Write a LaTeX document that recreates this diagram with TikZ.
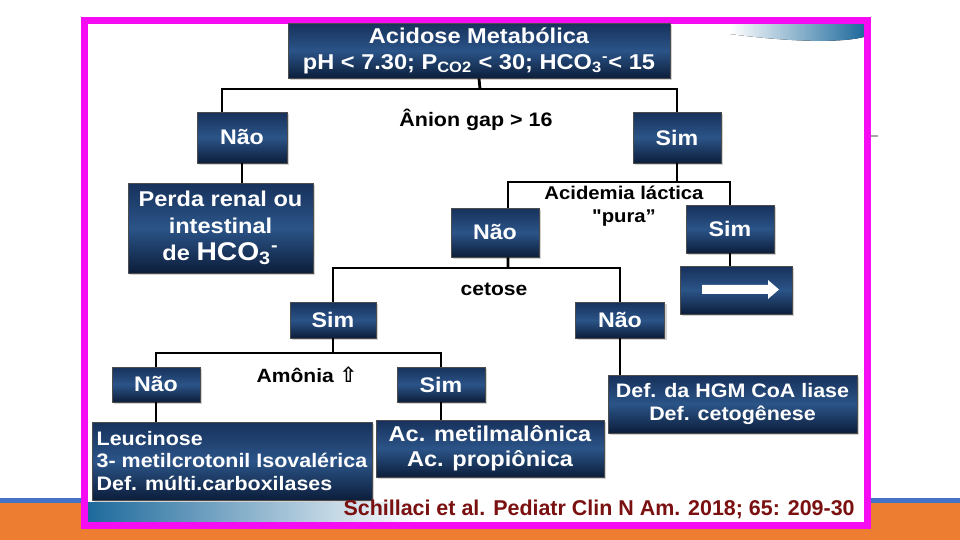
\documentclass[tikz,border=0pt]{standalone}
\usepackage{fontspec}
\setmainfont{Liberation Sans}
\newfontfamily\widefont[FakeStretch=1.1]{Liberation Sans}
\newfontfamily\arrowsym{DejaVu Sans}
\usetikzlibrary{shadows}
\definecolor{navytop}{HTML}{17315B}
\definecolor{navymid}{HTML}{2B5488}
\definecolor{navybot}{HTML}{0C1E3B}
\definecolor{framepink}{HTML}{F50CF2}
\definecolor{slideorange}{HTML}{ED7D31}
\definecolor{slideblue}{HTML}{4472C4}
\definecolor{swoosh}{HTML}{1E6A9C}
\definecolor{citered}{HTML}{7B1010}
\newcommand{\fsz}[2]{\fontsize{#1}{#2}\selectfont}
\begin{document}
\begin{tikzpicture}[x=0.02cm, y=-0.02cm, box/.style={draw=black!70, line width=0.5pt, top color=navytop, bottom color=navybot, middle color=navymid, text=white, font=\widefont\bfseries\fsz{12}{14}, align=center, inner sep=0pt, drop shadow={opacity=0.35, shadow xshift=1.2pt, shadow yshift=-1.2pt}}, answer/.style={box, minimum width=1.76cm}, tag/.style={font=\widefont\bfseries\fsz{10.9}{13}, align=center, inner sep=0pt}, link/.style={line width=1.6pt}]
		\useasboundingbox (0,0) rectangle (960,540);
		\fill[white] (0,0) rectangle (960,540);
		\fill[slideblue] (0,498) rectangle (960,503);
		\fill[slideorange] (0,503) rectangle (960,540);
		\fill[white] (88,24) rectangle (864,522);
		\fill[left color=white, right color=swoosh] (730,24) -- (864,24) -- (864,37) .. controls (840,43) and (790,42) .. (730,34) -- cycle;
		\fill[left color=swoosh, right color=white] (88,502) rectangle (420,522);
		\draw[framepink, line width=0.14cm] (84.5,20.5) rectangle (867.5,525);
		\draw[gray!70, line width=0.6pt] (871,136) -- (878,136);

		\node[box, minimum width=7.64cm, minimum height=1.1cm, font=\widefont\bfseries\fsz{12.2}{14.7}] (top) at (479,50.5) {Acidose Metabólica\\pH < 7.30; P\textsubscript{CO2} < 30; HCO\textsubscript{3}\textsuperscript{-}< 15};
		\node[box, minimum width=1.8cm, minimum height=1.02cm] (nao1) at (242,137.5) {Não};
		\node[answer, minimum height=1.02cm] (sim1) at (677,137.5) {Sim};
		\node[box, minimum width=3.7cm, minimum height=1.8cm, font=\widefont\bfseries\fsz{12.2}{15.3}] (perda) at (220.5,228) {Perda renal ou\\intestinal\\de {\fsz{14.6}{15.3}HCO\textsubscript{3}\textsuperscript{-}}};
		\node[answer, minimum height=0.98cm] (nao2) at (495,232.5) {Não};
		\node[answer, minimum height=0.96cm] (sim2) at (730,229) {Sim};
		\node[box, minimum width=2.24cm, minimum height=0.96cm] (arrowbox) at (736,290) {};
		\node[answer, minimum width=1.72cm, minimum height=0.72cm] (sim3) at (333,320) {Sim};
		\node[answer, minimum width=1.78cm, minimum height=0.72cm] (nao3) at (620,320) {Não};
		\node[answer, minimum height=0.7cm] (nao4) at (156,384.5) {Não};
		\node[answer, minimum height=0.7cm] (sim4) at (441,384.5) {Sim};
		\node[box, minimum width=5.6cm, minimum height=1.56cm, align=left, font=\widefont\bfseries\fsz{11.1}{13}] (leuc) at (232,461) {Leucinose\\3- metilcrotonil Isovalérica\\Def. múlti.carboxilases};
		\node[box, minimum width=4.56cm, minimum height=1.14cm, font=\widefont\bfseries\fsz{12.2}{14.2}] (acid) at (490,448.5) {Ac. metilmalônica\\Ac. propiônica};
		\node[box, minimum width=4.98cm, minimum height=1.16cm, font=\widefont\bfseries\fsz{11.1}{13}] (hgm) at (732.5,404) {Def. da HGM CoA liase\\Def. cetogênese};

		\node[tag, font=\widefont\bfseries\fsz{11.1}{13}] (aniongap) at (476,120) {Ânion gap > 16};
		\node[tag, font=\widefont\bfseries\fsz{10.5}{13}] (lactica) at (624,206) {Acidemia láctica\\"pura”};
		\node[tag] (cetose) at (494,289) {cetose};
		\node[tag] (amonia) at (307,375) {Amônia {\arrowsym\fsz{12}{13}⇧}};
		\node[anchor=east, inner sep=0pt, text=citered, font=\bfseries\fsz{12.2}{14}] (fonte) at (855,509) {Schillaci et al. Pediatr Clin N Am. 2018; 65: 209-30};

		\fill[white] (702,285) -- (768,285) -- (768,280) -- (779,289.5) -- (768,299) -- (768,294) -- (702,294) -- cycle;

		\coordinate (b1) at (480,89);
		\coordinate (b2) at (677,182);
		\coordinate (b3) at (508,268);
		\coordinate (b4) at (333,353);
		\draw[link] (top.south) -- (b1);
		\draw[link] ([xshift=-0.4cm]nao1.north) |- (b1) -| (sim1.north);
		\draw[link] (nao1.south) -- (nao1.south |- perda.north);
		\draw[link] (sim1.south) -- (b2);
		\draw[link] ([xshift=0.26cm]nao2.north) |- (b2) -| (sim2.north);
		\draw[link] (sim2.south) -- (sim2.south |- arrowbox.north);
		\draw[link] ([xshift=0.26cm]nao2.south) -- (b3);
		\draw[link] (sim3.north) |- (b3) -| (nao3.north);
		\draw[link] (sim3.south) -- (b4);
		\draw[link] (nao4.north) |- (b4) -| (sim4.north);
		\draw[link] (nao3.south) -- (nao3.south |- hgm.north);
		\draw[link] (nao4.south) -- (nao4.south |- leuc.north);
		\draw[link] (sim4.south) -- (sim4.south |- acid.north);
	\end{tikzpicture}
\end{document}
